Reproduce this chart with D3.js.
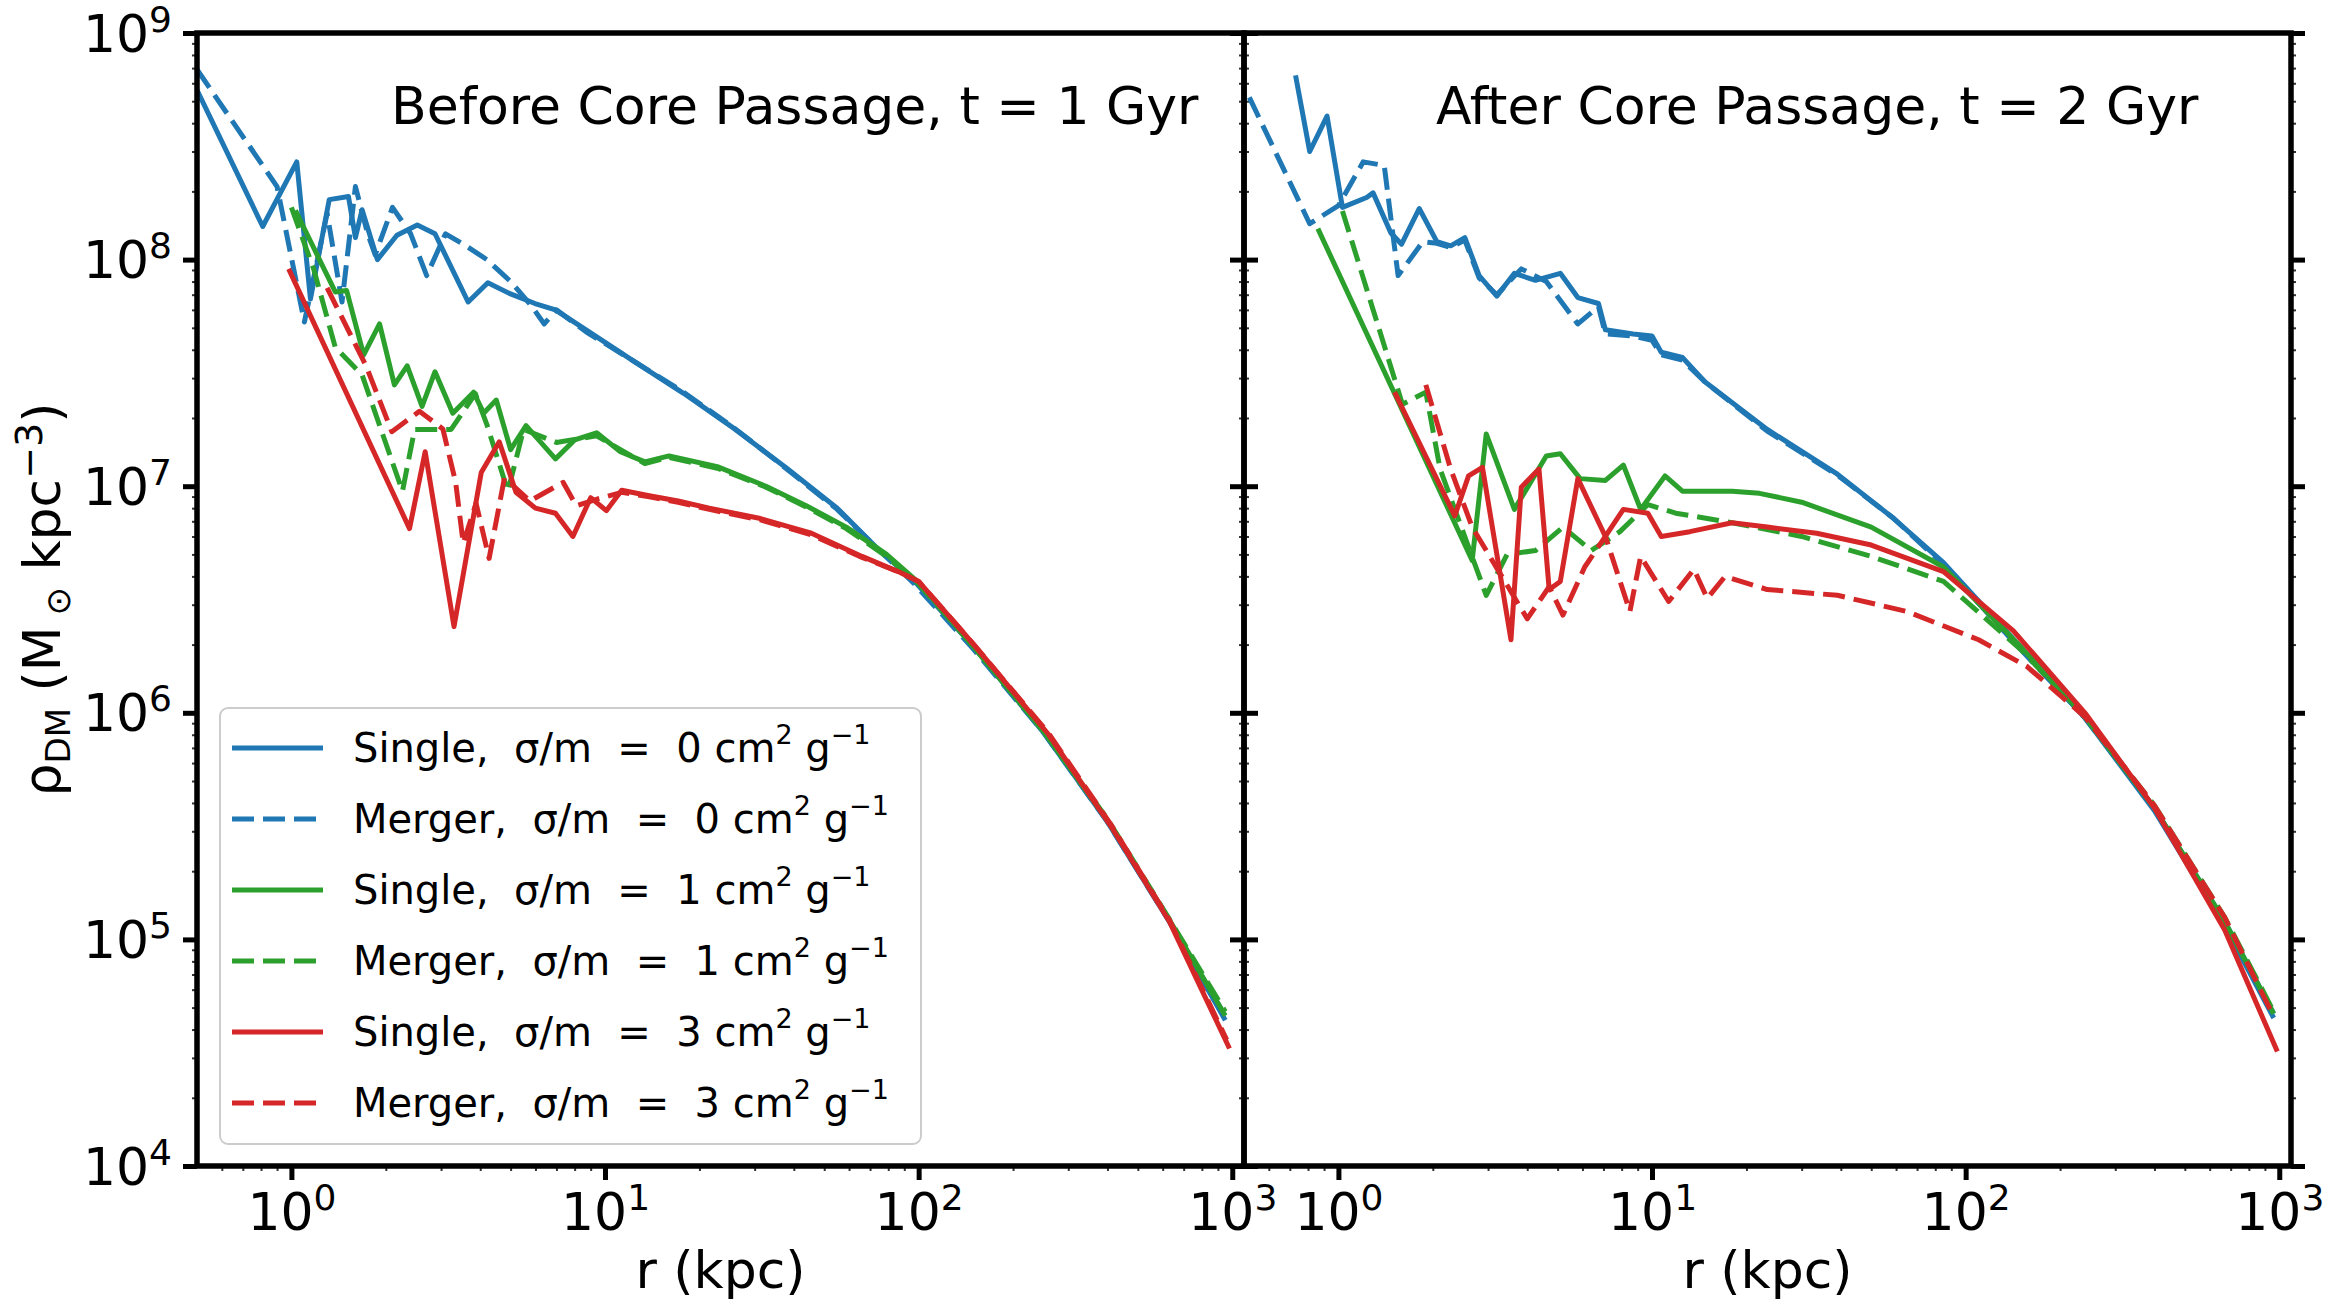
<!DOCTYPE html>
<html>
<head>
<meta charset="utf-8">
<script src="https://cdn.jsdelivr.net/npm/d3@7"></script>
<style>
  body { margin: 0; background: #fff; }
  text { font-family: "DejaVu Sans", sans-serif; fill: #000; }
</style>
</head>
<body>
<svg id="fig" width="2338" height="1315"></svg>
<script>
// density profiles, each point is [r (kpc), rho (Msun kpc^-3)]
// t = 1 Gyr, before core passage
var t1_single0 = [[0.5, 5.6e8], [0.81, 1.4e8], [1.04, 2.7e8], [1.15, 6.7e7], [1.32, 1.84e8], [1.52, 1.9e8], [1.6, 1.25e8], [1.68, 1.66e8],
  [1.88, 1.0e8], [2.17, 1.28e8], [2.52, 1.42e8], [2.87, 1.3e8], [3.66, 6.5e7], [4.23, 7.9e7], [4.95, 7.1e7], [5.98, 6.4e7], [6.95, 6.0e7],
  [8.7, 4.9e7], [12.2, 3.6e7], [17.8, 2.57e7], [25.9, 1.79e7], [37.7, 1.21e7], [55, 8.0e6], [74, 5.3e6], [97, 3.8e6], [150, 1.95e6],
  [250, 8.2e5], [400, 3.3e5], [630, 1.2e5], [950, 4.4e4]];
var t1_merger0 = [[0.5, 6.9e8], [0.9, 2.1e8], [1.1, 5.3e7], [1.3, 1.6e8], [1.45, 6.5e7], [1.6, 2.1e8], [1.75, 1.3e8], [1.85, 1.05e8],
  [2.1, 1.7e8], [2.4, 1.3e8], [2.7, 8.5e7], [3.1, 1.3e8], [3.6, 1.15e8], [4.2, 1.0e8], [5.0, 8.0e7], [5.8, 6.3e7], [6.4, 5.2e7],
  [7.0, 6.0e7], [8.7, 4.8e7], [12.2, 3.6e7], [17.8, 2.6e7], [25.9, 1.8e7], [37.7, 1.2e7], [55, 7.9e6], [74, 5.3e6], [97, 3.7e6],
  [150, 1.9e6], [250, 8.2e5], [400, 3.3e5], [630, 1.2e5], [950, 4.6e4]];
var t1_single1 = [[1.03, 1.65e8], [1.12, 1.3e8], [1.38, 7.2e7], [1.5, 7.3e7], [1.7, 3.8e7], [1.91, 5.2e7], [2.13, 2.8e7], [2.34, 3.4e7],
  [2.61, 2.25e7], [2.87, 3.2e7], [3.27, 2.1e7], [3.81, 2.6e7], [4.1, 2.1e7], [4.5, 2.4e7], [5.0, 1.45e7], [5.6, 1.85e7], [6.95, 1.32e7],
  [8.0, 1.6e7], [9.4, 1.72e7], [11.2, 1.42e7], [13.4, 1.28e7], [16, 1.36e7], [22.8, 1.22e7], [32.6, 1.0e7], [43.8, 8.2e6], [58.8, 6.6e6],
  [79, 5.0e6], [100, 3.75e6], [150, 1.95e6], [250, 8.3e5], [400, 3.35e5], [630, 1.22e5], [950, 4.6e4]];
var t1_merger1 = [[1.0, 1.7e8], [1.18, 9.0e7], [1.38, 4.1e7], [1.68, 3.1e7], [2.26, 9.5e6], [2.47, 1.78e7], [3.23, 1.78e7], [3.86, 2.56e7],
  [4.2, 1.87e7], [4.9, 9.5e6], [5.5, 1.78e7], [7.0, 1.56e7], [9.4, 1.67e7], [11.2, 1.45e7], [13.4, 1.26e7], [16, 1.34e7], [22.8, 1.2e7],
  [32.6, 9.9e6], [43.8, 8.1e6], [58.8, 6.5e6], [79, 4.9e6], [100, 3.7e6], [150, 1.95e6], [250, 8.3e5], [400, 3.4e5], [630, 1.23e5],
  [950, 4.8e4]];
var t1_single3 = [[0.98, 9.1e7], [2.38, 6.5e6], [2.67, 1.42e7], [3.3, 2.4e6], [4.03, 1.15e7], [4.6, 1.57e7], [5.2, 9.4e6], [6.0, 8.0e6],
  [6.95, 7.6e6], [7.9, 6.0e6], [9.0, 8.9e6], [10.1, 7.8e6], [11.3, 9.6e6], [13.7, 9.1e6], [17.1, 8.6e6], [21.5, 8.0e6], [31.3, 7.2e6],
  [45.5, 6.2e6], [66, 4.9e6], [86, 4.2e6], [100, 3.8e6], [150, 2.0e6], [260, 8.0e5], [414, 3.1e5], [630, 1.2e5], [980, 3.3e4]];
var t1_merger3 = [[1.3, 7.5e7], [1.73, 3.4e7], [2.09, 1.74e7], [2.56, 2.14e7], [3.04, 1.79e7], [3.34, 1.04e7], [3.53, 5.6e6], [3.88, 8.4e6],
  [4.27, 4.8e6], [4.78, 1.09e7], [5.76, 8.6e6], [7.35, 1.04e7], [8.1, 8.2e6], [9.5, 8.8e6], [11.3, 9.4e6], [13.7, 9.0e6], [17.1, 8.5e6],
  [21.5, 7.9e6], [31.3, 7.1e6], [45.5, 6.1e6], [66, 4.85e6], [86, 4.2e6], [100, 3.8e6], [150, 2.0e6], [260, 8.1e5], [414, 3.15e5],
  [630, 1.22e5], [960, 3.6e4]];

// t = 2 Gyr, after core passage
var t2_single0 = [[0.73, 6.5e8], [0.81, 3.0e8], [0.92, 4.3e8], [1.03, 1.7e8], [1.23, 1.88e8], [1.29, 1.97e8], [1.47, 1.31e8], [1.59, 1.17e8],
  [1.81, 1.68e8], [2.06, 1.2e8], [2.28, 1.15e8], [2.53, 1.25e8], [2.81, 8.5e7], [3.2, 6.9e7], [3.64, 8.7e7], [4.25, 8.1e7], [5.1, 8.7e7],
  [5.8, 6.8e7], [6.75, 6.4e7], [7.1, 4.9e7], [8.7, 4.7e7], [10.0, 4.6e7], [10.7, 3.9e7], [12.5, 3.7e7], [14.7, 2.9e7], [23.3, 1.78e7],
  [39, 1.13e7], [59, 7.2e6], [85, 4.6e6], [150, 1.95e6], [240, 9.5e5], [400, 3.7e5], [670, 1.15e5], [960, 4.5e4]];
var t2_merger0 = [[0.52, 5.2e8], [0.81, 1.44e8], [1.0, 1.73e8], [1.2, 2.7e8], [1.4, 2.6e8], [1.55, 8.5e7], [1.86, 1.2e8], [2.06, 1.18e8],
  [2.28, 1.13e8], [2.53, 1.22e8], [2.81, 8.3e7], [3.2, 7.0e7], [3.83, 9.1e7], [4.6, 8.0e7], [5.8, 5.2e7], [6.75, 6.2e7], [7.1, 4.7e7],
  [8.7, 4.6e7], [10.0, 4.4e7], [10.7, 3.8e7], [12.5, 3.6e7], [14.7, 2.9e7], [23.3, 1.75e7], [39, 1.12e7], [59, 7.2e6], [85, 4.5e6],
  [150, 1.9e6], [240, 9.5e5], [400, 3.8e5], [670, 1.2e5], [960, 4.7e4]];
var t2_single1 = [[0.86, 1.37e8], [2.67, 4.7e6], [2.96, 1.7e7], [3.64, 7.9e6], [4.6, 1.36e7], [5.1, 1.39e7], [5.9, 1.08e7], [7.1, 1.06e7],
  [8.1, 1.24e7], [9.2, 7.9e6], [11, 1.11e7], [12.5, 9.5e6], [18, 9.5e6], [22, 9.3e6], [30, 8.5e6], [50, 6.6e6], [85, 4.4e6], [150, 1.95e6],
  [240, 9.6e5], [400, 3.8e5], [670, 1.2e5], [960, 4.7e4]];
var t2_merger1 = [[1.03, 1.64e8], [1.6, 2.3e7], [1.9, 2.6e7], [2.11, 1.19e7], [2.96, 3.3e6], [3.45, 5.0e6], [4.25, 5.2e6], [5.2, 6.6e6],
  [6.4, 5.2e6], [7.9, 6.3e6], [9.7, 8.3e6], [11.9, 7.6e6], [18, 6.9e6], [30, 6.0e6], [50, 4.9e6], [85, 3.8e6], [150, 1.9e6], [240, 9.6e5],
  [400, 3.9e5], [670, 1.25e5], [960, 4.8e4]];
var t2_single3 = [[1.51, 2.6e7], [2.35, 7.4e6], [2.6, 1.11e7], [2.88, 1.21e7], [3.55, 2.1e6], [3.83, 9.9e6], [4.36, 1.19e7], [4.7, 3.5e6],
  [5.1, 3.8e6], [5.8, 1.08e7], [7.1, 6.0e6], [8.1, 7.9e6], [9.7, 7.6e6], [10.7, 6.0e6], [13.2, 6.3e6], [18, 6.9e6], [23.3, 6.6e6],
  [33.5, 6.2e6], [50, 5.5e6], [85, 4.2e6], [142, 2.3e6], [240, 1.0e6], [400, 3.8e5], [670, 1.1e5], [986, 3.2e4]];
var t2_merger3 = [[1.9, 2.8e7], [2.28, 1.19e7], [2.67, 6.6e6], [4.0, 2.6e6], [4.7, 3.6e6], [5.2, 2.7e6], [6.1, 4.4e6], [7.1, 6.0e6],
  [8.5, 2.8e6], [9.2, 4.9e6], [11.3, 3.1e6], [13.6, 4.3e6], [15, 3.2e6], [17.1, 4.0e6], [23.3, 3.5e6], [39, 3.3e6], [65, 2.8e6],
  [110, 2.1e6], [157, 1.6e6], [240, 9.6e5], [400, 3.9e5], [670, 1.25e5], [957, 4.6e4]];

// ticks, labels and legend text
var xMajor = [1, 10, 100, 1000];
var yMajor = [1e4, 1e5, 1e6, 1e7, 1e8, 1e9];
var panelTitles = ["Before Core Passage, t = 1 Gyr", "After Core Passage, t = 2 Gyr"];
var runKinds = ["Single", "Merger"];
var crossSections = [0, 1, 3];
var seriesColors = ["#1f77b4", "#2ca02c", "#d62728"];

var svg = d3.select("#fig");
var plotTop = 33, plotBottom = 1166;

var panels = [
  {x0: 197, x1: 1244, title: panelTitles[0], titleX: 391,
   series: [t1_single0, t1_merger0, t1_single1, t1_merger1, t1_single3, t1_merger3]},
  {x0: 1244, x1: 2291, title: panelTitles[1], titleX: 1436,
   series: [t2_single0, t2_merger0, t2_single1, t2_merger1, t2_single3, t2_merger3]}
];

var y = d3.scaleLog().domain([1e4, 1e9]).range([plotBottom, plotTop]);

// minor tick positions 2..9 x 10^k
function minorTicks(lo, hi, k0, k1) {
  var out = [];
  for (var k = k0; k <= k1; k++) {
    for (var m = 2; m <= 9; m++) {
      var v = m * Math.pow(10, k);
      if (v > lo && v < hi) out.push(v);
    }
  }
  return out;
}
var yMinor = minorTicks(1e4, 1e9, 4, 8);

// draws major + minor ticks for one axis generator
function drawTicks(gen, transform, majors, minors) {
  var gMin = svg.append("g").attr("transform", transform)
    .call(gen.tickValues(minors).tickSize(5).tickFormat(""));
  gMin.select(".domain").remove();
  gMin.selectAll("line").attr("stroke", "#333").attr("stroke-width", 2);
  var gMaj = svg.append("g").attr("transform", transform)
    .call(gen.tickValues(majors).tickSize(14).tickFormat(""));
  gMaj.select(".domain").remove();
  gMaj.selectAll("line").attr("stroke", "#000").attr("stroke-width", 5);
  return gMaj;
}

function powerLabel(sel) {
  sel.each(function(d) {
    var t = d3.select(this);
    t.text(null);
    t.append("tspan").text("10");
    t.append("tspan").attr("dy", -20).style("font-size", "36px").text(Math.round(Math.log10(d)));
  });
}

var line = d3.line();

panels.forEach(function(p, pi) {
  var x = d3.scaleLog().domain([0.5, 1090]).range([p.x0, p.x1]);
  var xMinor = minorTicks(0.5, 1090, -1, 3);

  // clip to the axes box
  svg.append("clipPath").attr("id", "clip" + pi)
    .append("rect")
    .attr("x", p.x0).attr("y", plotTop)
    .attr("width", p.x1 - p.x0).attr("height", plotBottom - plotTop);

  line.x(function(d) { return x(d[0]); })
      .y(function(d) { return y(d[1]); });

  var lg = svg.append("g").attr("clip-path", "url(#clip" + pi + ")");
  p.series.forEach(function(s, si) {
    lg.append("path")
      .attr("d", line(s))
      .attr("fill", "none")
      .attr("stroke", seriesColors[Math.floor(si / 2)])
      .attr("stroke-width", 5)
      .attr("stroke-linejoin", "round")
      .attr("stroke-dasharray", si % 2 ? "22,9" : null);
  });

  // bottom axis with 10^n labels
  var gx = drawTicks(d3.axisBottom(x), "translate(0," + plotBottom + ")", xMajor, xMinor);
  gx.selectAll(".tick text")
    .attr("y", 64).attr("dy", null)
    .attr("text-anchor", "middle")
    .style("font-size", "52px")
    .call(powerLabel);

  // y ticks on both sides of each panel
  var gl = drawTicks(d3.axisLeft(y), "translate(" + p.x0 + ",0)", yMajor, yMinor);
  drawTicks(d3.axisRight(y), "translate(" + p.x1 + ",0)", yMajor, yMinor);
  if (pi == 0) {
    gl.selectAll(".tick text")
      .attr("x", -25).attr("dy", null).attr("y", 18)
      .attr("text-anchor", "end")
      .style("font-size", "52px")
      .call(powerLabel);
  }

  // spines
  svg.append("rect")
    .attr("x", p.x0).attr("y", plotTop)
    .attr("width", p.x1 - p.x0).attr("height", plotBottom - plotTop)
    .attr("fill", "none").attr("stroke", "#000").attr("stroke-width", 5.5);

  // panel title
  svg.append("text")
    .attr("x", p.titleX).attr("y", 124)
    .style("font-size", "52px")
    .text(p.title);

  // x-axis title
  svg.append("text")
    .attr("x", (p.x0 + p.x1) / 2).attr("y", 1288)
    .attr("text-anchor", "middle")
    .style("font-size", "52px")
    .text("r (kpc)");
});

// y-axis title
var yl = svg.append("text")
  .attr("transform", "translate(60," + ((plotTop + plotBottom) / 2) + ")rotate(-90)")
  .attr("text-anchor", "middle")
  .style("font-size", "52px")
  .style("white-space", "pre");
yl.append("tspan").text("ρ");
yl.append("tspan").attr("dy", 10).style("font-size", "34px").text("DM");
yl.append("tspan").attr("dy", -10).text(" (M");
yl.append("tspan").attr("dy", 10).style("font-size", "34px").text(" ⊙");
yl.append("tspan").attr("dy", -10).text(" kpc");
yl.append("tspan").attr("dy", -18).style("font-size", "38px").text("−3");
yl.append("tspan").attr("dy", 18).text(")");

// legend
var leg = svg.append("g");
leg.append("rect")
  .attr("x", 220).attr("y", 708).attr("width", 701).attr("height", 436)
  .attr("rx", 8)
  .attr("fill", "#fff").attr("fill-opacity", 0.8)
  .attr("stroke", "#ccc").attr("stroke-width", 2);

var row = 0;
crossSections.forEach(function(cs, ci) {
  runKinds.forEach(function(kind, ki) {
    var ry = 748 + row * 71;
    leg.append("line")
      .attr("x1", 232).attr("x2", 323).attr("y1", ry).attr("y2", ry)
      .attr("stroke", seriesColors[ci]).attr("stroke-width", 5)
      .attr("stroke-dasharray", ki ? "22,9" : null);
    var t = leg.append("text")
      .attr("x", 353).attr("y", ry + 14)
      .style("font-size", "40px")
      .style("white-space", "pre");
    t.append("tspan").text(kind + ",  σ/m  =  " + cs + " cm");
    t.append("tspan").attr("dy", -18).style("font-size", "27px").text("2");
    t.append("tspan").attr("dy", 18).text(" g");
    t.append("tspan").attr("dy", -18).style("font-size", "27px").text("−1");
    row++;
  });
});
</script>
</body>
</html>
